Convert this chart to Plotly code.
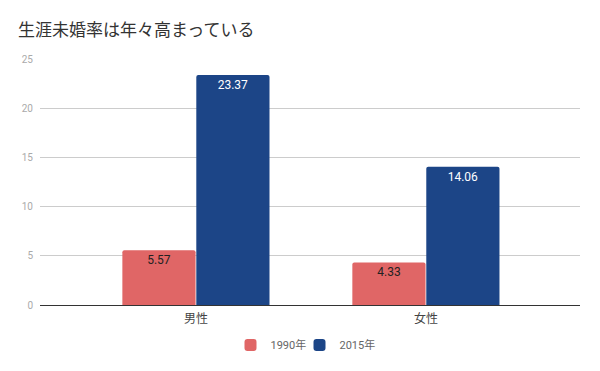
import plotly.graph_objects as go

categories = ["男性", "女性"]
series_names = ["1990年", "2015年"]
values_1990 = [5.57, 4.33]
values_2015 = [23.37, 14.06]
y_ticks = [0, 5, 10, 15, 20, 25]

colors = ["#e06666", "#1c4587"]
text_colors = ["#222222", "#ffffff"]

fig = go.Figure()
for name, vals, c, tc in zip(series_names, [values_1990, values_2015], colors, text_colors):
    fig.add_trace(go.Bar(
        x=categories, y=vals, name=name,
        marker=dict(color=c, line=dict(width=0), cornerradius=2),
        text=[f"{v:.2f}" for v in vals],
        textposition="inside", insidetextanchor="end",
        textfont=dict(color=tc, size=12, family="Roboto"),
        textangle=0,
    ))
# invisible spacer legend entry so that the last legend label is not clipped
fig.add_trace(go.Scatter(x=[None], y=[None], name=" ", mode="markers",
                         marker=dict(color="rgba(0,0,0,0)"), hoverinfo="skip"))

fig.update_layout(
    width=600, height=371,
    margin=dict(l=40, r=20, t=59, b=66, autoexpand=False),
    plot_bgcolor="white", paper_bgcolor="white",
    barmode="group", bargap=0.357, bargroupgap=0.01,
    title=dict(text="生涯未婚率は年々高まっている", xref="container", x=18/600, xanchor="left",
               yref="container", y=1 - 30/371, yanchor="middle",
               font=dict(family="Noto Sans CJK JP", size=17, color="#333333")),
    font=dict(family="Noto Sans CJK JP, Roboto", color="#444444"),
    xaxis=dict(range=[-0.678, 1.67], showgrid=False, showline=True, linecolor="#333333", linewidth=1,
               tickfont=dict(size=12, color="#444444"), ticks="", zeroline=False,
               automargin=False, ticklabelstandoff=3),
    yaxis=dict(range=[0, 25], tickvals=y_ticks, showgrid=True, gridcolor="#cccccc", gridwidth=1,
               zeroline=True, zerolinecolor="#333333", zerolinewidth=1,
               tickfont=dict(size=10, color="#aaaaaa", family="Roboto"), ticks="", ticklabelstandoff=6,
               automargin=False),
    legend=dict(orientation="h", x=0.5 + 24/540, xanchor="center", y=-0.163, yanchor="middle",
                font=dict(size=11, color="#666666", family="Roboto, Noto Sans CJK JP"),
                itemwidth=30, entrywidth=24, traceorder="normal"),
)

fig.write_html("out.html", config={"displayModeBar": False},
               post_script="document.body.style.margin='0';document.body.style.overflow='hidden';")
